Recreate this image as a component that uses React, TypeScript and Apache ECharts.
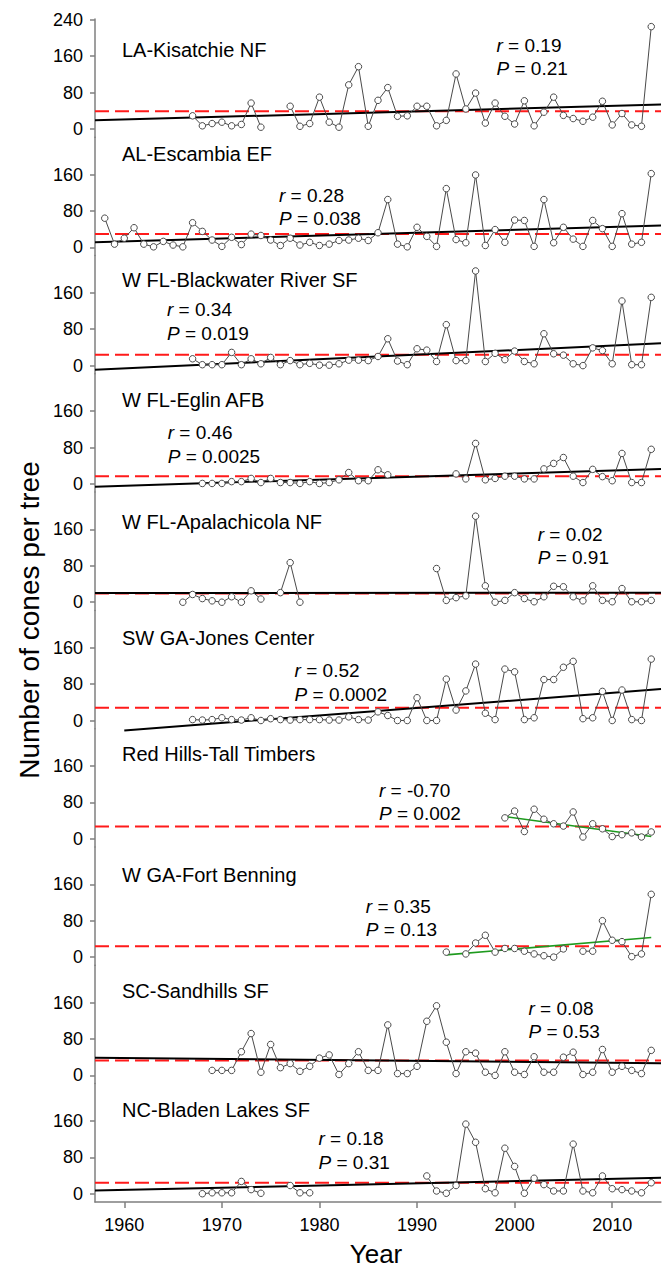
import React, { useEffect, useRef } from "react";
import * as echarts from "echarts";

const N = null;

const years = [
  1958, 1959, 1960, 1961, 1962, 1963, 1964, 1965, 1966, 1967,
  1968, 1969, 1970, 1971, 1972, 1973, 1974, 1975, 1976, 1977,
  1978, 1979, 1980, 1981, 1982, 1983, 1984, 1985, 1986, 1987,
  1988, 1989, 1990, 1991, 1992, 1993, 1994, 1995, 1996, 1997,
  1998, 1999, 2000, 2001, 2002, 2003, 2004, 2005, 2006, 2007,
  2008, 2009, 2010, 2011, 2012, 2013, 2014,
];

const siteNames = [
  "LA-Kisatchie NF",
  "AL-Escambia EF",
  "W FL-Blackwater River SF",
  "W FL-Eglin AFB",
  "W FL-Apalachicola NF",
  "SW GA-Jones Center",
  "Red Hills-Tall Timbers",
  "W GA-Fort Benning",
  "SC-Sandhills SF",
  "NC-Bladen Lakes SF",
];

const kisatchie = [
  N, N, N, N, N, N, N, N, N, 29,
  7, 12, 15, 7, 10, 57, 4, N, N, 50,
  6, 12, 70, 15, 4, 97, 137, 6, 63, 91,
  28, 29, 50, 50, 7, 19, 121, 44, 79, 13,
  57, 28, 11, 62, 7, 37, 70, 30, 23, 17,
  26, 61, 9, 34, 9, 6, 225,
];
const escambia = [
  64, 7, 20, 43, 7, 1, 13, 5, 1, 54,
  35, 16, 2, 22, 6, 29, 26, 16, 4, 20,
  5, 11, 4, 7, 15, 16, 20, 15, 32, 105,
  7, 1, 44, 24, 2, 129, 17, 10, 159, 4,
  39, 11, 60, 59, 2, 105, 10, 44, 18, 2,
  59, 41, 2, 74, 7, 11, 162,
];
const blackwater = [
  N, N, N, N, N, N, N, N, N, 15,
  2, 2, 2, 29, 2, 15, 4, 18, 2, 11,
  2, 5, 1, 1, 4, 12, 12, 11, 20, 59,
  10, 2, 37, 34, 9, 90, 11, 11, 208, 9,
  27, 13, 32, 9, 4, 70, 26, 23, 4, 0,
  39, 33, 4, 142, 2, 2, 150,
];
const eglin = [
  N, N, N, N, N, N, N, N, N, N,
  1, 1, 1, 5, 5, 12, 3, 12, 3, 3,
  1, 5, 1, 3, 9, 25, 7, 7, 31, 20,
  N, N, N, N, N, N, 22, 11, 89, 9,
  12, 17, 17, 11, 11, 33, 45, 58, 17, 3,
  32, 16, 7, 67, 3, 3, 76,
];
const apalachicola = [
  N, N, N, N, N, N, N, N, 0, 17,
  8, 3, 0, 12, 0, 25, 7, N, 21, 87,
  0, N, N, N, N, N, N, N, N, N,
  N, N, N, N, 74, 4, 10, 14, 189, 36,
  0, 4, 21, 8, 1, 12, 35, 34, 12, 3,
  36, 4, 1, 30, 1, 1, 4,
];
const jones = [
  N, N, N, N, N, N, N, N, N, 2,
  1, 2, 6, 2, 1, 6, 0, 4, 2, 1,
  2, 2, 2, 1, 1, 8, 2, 1, 19, 11,
  0, 0, 50, 0, 0, 91, 23, 65, 124, 16,
  2, 113, 107, 2, 6, 90, 90, 117, 130, 4,
  6, 64, 0, 67, 2, 0, 135,
];
const redHills = [
  N, N, N, N, N, N, N, N, N, N,
  N, N, N, N, N, N, N, N, N, N,
  N, N, N, N, N, N, N, N, N, N,
  N, N, N, N, N, N, N, N, N, N,
  N, 46, 61, 16, 65, 43, 33, 28, 59, 4,
  33, 22, 5, 9, 13, 4, 15,
];
const fortBenning = [
  N, N, N, N, N, N, N, N, N, N,
  N, N, N, N, N, N, N, N, N, N,
  N, N, N, N, N, N, N, N, N, N,
  N, N, N, N, N, 11, N, 7, 31, 48,
  11, 19, 19, 13, 7, 3, 0, 18, N, 13,
  13, 80, 37, 34, 1, 7, 138,
];
const sandhills = [
  N, N, N, N, N, N, N, N, N, N,
  N, 11, 11, 11, 52, 92, 7, 68, 17, 26,
  9, 20, 38, 45, 2, 26, 52, 11, 11, 111,
  4, 4, 20, 119, 153, 73, 4, 52, 49, 7,
  0, 52, 7, 2, 41, 7, 7, 40, 51, 2,
  7, 57, 7, 20, 11, 4, 55,
];
const bladen = [
  N, N, N, N, N, N, N, N, N, N,
  0, 2, 2, 2, 27, 9, 1, N, N, 18,
  2, 2, N, N, N, N, N, N, N, N,
  N, N, N, 39, 6, 1, 18, 153, 113, 11,
  2, 100, 60, 1, 34, 20, 6, 6, 109, 6,
  2, 39, 11, 9, 6, 2, 24,
];

const seriesValues = [
  kisatchie, escambia, blackwater, eglin, apalachicola,
  jones, redHills, fortBenning, sandhills, bladen,
];

const rLabels = ["0.19", "0.28", "0.34", "0.46", "0.02", "0.52", "-0.70", "0.35", "0.08", "0.18"];
const pLabels = ["0.21", "0.038", "0.019", "0.0025", "0.91", "0.0002", "0.002", "0.13", "0.53", "0.31"];

const meanValues = [39, 29, 24, 17, 19, 28, 27, 24, 33, 24];

// regression line end points [year, value]
const trendStart = [
  [1957, 19], [1957, 11], [1957, -9], [1957, -6], [1957, 20],
  [1960, -22], [1999, 49], [1993, 5], [1957, 39], [1957, 7],
];
const trendEnd = [
  [2015, 54], [2015, 48], [2015, 49], [2015, 33], [2015, 21],
  [2015, 69], [2014, 5], [2014, 43], [2015, 27], [2015, 35],
];
const trendIsGreen = [false, false, false, false, false, false, true, true, false, false];

const xTickValues = [1960, 1970, 1980, 1990, 2000, 2010];
const yTickValues = [0, 80, 160];
const yTickValuesTop = [0, 80, 160, 240];

// layout (pixels)
const W = 662;
const H = 1270;
const LEFT = 95;
const PW = 566;
const TOP0 = 18.9;
const PH = 118.3;
const YMIN = -18;
const YMAX = 242;
const K = PH / (YMAX - YMIN);
const titleAbove = [79.5, 93.5, 86, 83.5, 80, 83, 85, 82, 84, 84];
const rAbove = [84, 52, 56, 51, 68, 50, 48.5, 51, 67, 55];
const rX = [496.5, 279, 167, 167.7, 537.7, 294.6, 379, 365.8, 528.5, 318.5];

const FONT = "'Liberation Sans', Arial, Helvetica, sans-serif";
const AXIS_COLOR = "#7f7f7f";

function zeroY(i: number) {
  return TOP0 + i * PH + YMAX * K;
}

function buildOption() {
  const grid: any[] = [];
  const xAxis: any[] = [];
  const yAxis: any[] = [];
  const series: any[] = [];
  const graphic: any[] = [];

  siteNames.forEach((name, i) => {
    const last = i === siteNames.length - 1;
    const yt = i === 0 ? yTickValuesTop : yTickValues;
    grid.push({ left: LEFT, top: TOP0 + i * PH, width: PW, height: PH });
    xAxis.push({
      type: "value",
      gridIndex: i,
      min: 1957,
      max: 2015,
      axisLine: { show: last, onZero: false, lineStyle: { color: AXIS_COLOR, width: 1.5 } },
      axisTick: {
        show: last,
        customValues: xTickValues,
        length: 6,
        lineStyle: { color: AXIS_COLOR, width: 1.5 },
      },
      axisLabel: {
        show: last,
        customValues: xTickValues,
        formatter: (v: number) => String(v),
        fontSize: 18,
        fontFamily: FONT,
        color: "#000",
        margin: 14,
      },
      splitLine: { show: false },
    });
    yAxis.push({
      type: "value",
      gridIndex: i,
      min: YMIN,
      max: YMAX,
      axisLine: { show: true, onZero: false, lineStyle: { color: AXIS_COLOR, width: 1.5 } },
      axisTick: {
        show: true,
        customValues: yt,
        length: 5,
        lineStyle: { color: AXIS_COLOR, width: 1.5 },
      },
      axisLabel: {
        customValues: yt,
        formatter: (v: number) => String(v),
        fontSize: 18,
        fontFamily: FONT,
        color: "#000",
        margin: 12,
      },
      splitLine: { show: false },
    });

    series.push({
      type: "line",
      xAxisIndex: i,
      yAxisIndex: i,
      data: [[1957, meanValues[i]], [2015, meanValues[i]]],
      symbol: "none",
      silent: true,
      lineStyle: { color: "#ff1a1a", width: 2, type: [14, 6] },
      z: 2,
    });
    series.push({
      type: "line",
      xAxisIndex: i,
      yAxisIndex: i,
      data: [trendStart[i], trendEnd[i]],
      symbol: "none",
      silent: true,
      clip: false,
      lineStyle: {
        color: trendIsGreen[i] ? "#1e9a1e" : "#000",
        width: trendIsGreen[i] ? 1.6 : 2,
      },
      z: 3,
    });
    series.push({
      type: "line",
      xAxisIndex: i,
      yAxisIndex: i,
      data: years.map((yr, j) => [yr, seriesValues[i][j] == null ? "-" : seriesValues[i][j]]),
      connectNulls: false,
      symbol: "circle",
      symbolSize: 6.5,
      showSymbol: true,
      showAllSymbol: true,
      clip: false,
      lineStyle: { color: "#4a4a4a", width: 1 },
      itemStyle: { color: "#fff", borderColor: "#4a4a4a", borderWidth: 1 },
      z: 4,
    });

    const z0 = zeroY(i);
    graphic.push({
      type: "text",
      x: 122,
      y: z0 - titleAbove[i],
      style: {
        text: name,
        fill: "#000",
        fontSize: 20,
        fontFamily: FONT,
        align: "left",
        verticalAlign: "middle",
      },
    });
    graphic.push({
      type: "text",
      x: rX[i],
      y: z0 - rAbove[i],
      style: {
        text: "{i|r} = " + rLabels[i],
        fill: "#000",
        fontSize: 19,
        fontFamily: FONT,
        align: "left",
        verticalAlign: "middle",
        rich: { i: { fontStyle: "italic", fontSize: 19, fontFamily: FONT, fill: "#000" } },
      },
    });
    graphic.push({
      type: "text",
      x: rX[i],
      y: z0 - rAbove[i] + 23.5,
      style: {
        text: "{i|P} = " + pLabels[i],
        fill: "#000",
        fontSize: 19,
        fontFamily: FONT,
        align: "left",
        verticalAlign: "middle",
        rich: { i: { fontStyle: "italic", fontSize: 19, fontFamily: FONT, fill: "#000" } },
      },
    });
  });

  graphic.push({
    type: "text",
    x: 29,
    y: 620,
    rotation: Math.PI / 2,
    style: {
      text: "Number of cones per tree",
      fill: "#000",
      fontSize: 28,
      fontFamily: FONT,
      align: "center",
      verticalAlign: "middle",
    },
  });
  graphic.push({
    type: "text",
    x: 376,
    y: 1254,
    style: {
      text: "Year",
      fill: "#000",
      fontSize: 26,
      fontFamily: FONT,
      align: "center",
      verticalAlign: "middle",
    },
  });

  return {
    animation: false,
    backgroundColor: "#fff",
    grid,
    xAxis,
    yAxis,
    series,
    graphic,
  };
}

export default function App() {
  const ref = useRef<HTMLDivElement>(null);
  useEffect(() => {
    document.body.style.margin = "0";
    if (!ref.current) return;
    const chart = echarts.init(ref.current, undefined, { renderer: "svg" });
    chart.setOption(buildOption());
    return () => chart.dispose();
  }, []);
  return <div ref={ref} style={{ width: W, height: H }} />;
}
